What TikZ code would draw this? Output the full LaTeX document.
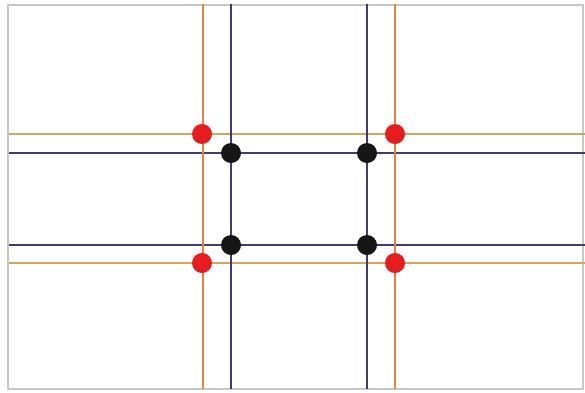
\documentclass[tikz,border=0pt]{standalone}
\definecolor{gridorange}{RGB}{228,130,66}
\definecolor{gridtan}{RGB}{208,166,98}
\definecolor{griddark}{RGB}{68,58,108}
\definecolor{dotred}{RGB}{228,30,32}
\definecolor{dotblack}{RGB}{22,22,22}
\definecolor{framegray}{RGB}{200,200,200}
\tikzset{
  orangeline/.style={draw=gridorange,line width=2.2pt},
  tanline/.style={draw=gridtan,line width=2.2pt},
  darkline/.style={draw=griddark,line width=2.4pt},
  reddot/.style={circle,fill=dotred,inner sep=0pt,minimum size=20pt},
  blackdot/.style={circle,fill=dotblack,inner sep=0pt,minimum size=20pt},
}
\begin{document}
\begin{tikzpicture}[x=1pt,y=-1pt]
\useasboundingbox (0,0) rectangle (585,392);
\fill[white] (0,0) rectangle (585,392);
\draw[framegray,line width=1.6pt] (8,5) rectangle (583,389);
% horizontal lines
\draw[tanline] (9,134) -- (585,134);
\draw[tanline] (9,263) -- (585,263);
\draw[darkline] (9,153) -- (585,153);
\draw[darkline] (9,245) -- (585,245);
% vertical lines
\draw[orangeline] (203,4) -- (203,389);
\draw[orangeline] (395,4) -- (395,389);
\draw[darkline] (231,4) -- (231,389);
\draw[darkline] (367,4) -- (367,389);
% dots
\node[reddot] (r1) at (202,134) {};
\node[reddot] (r2) at (395,134) {};
\node[reddot] (r3) at (202,263) {};
\node[reddot] (r4) at (395,263) {};
\node[blackdot] (b1) at (231,153) {};
\node[blackdot] (b2) at (367,153) {};
\node[blackdot] (b3) at (231,245) {};
\node[blackdot] (b4) at (367,245) {};
\end{tikzpicture}
\end{document}
